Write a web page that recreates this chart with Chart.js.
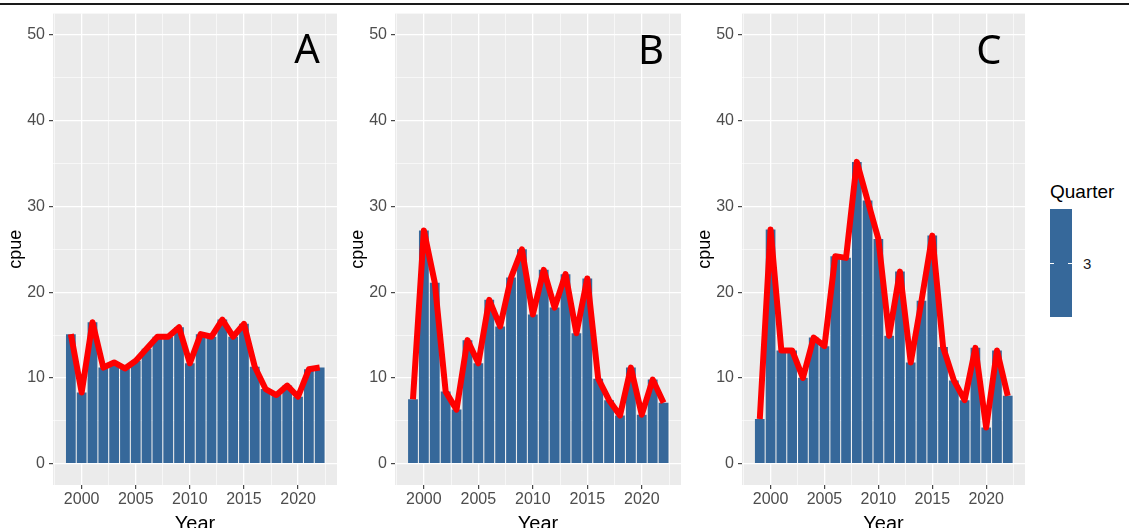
<!DOCTYPE html>
<html>
<head>
<meta charset="utf-8">
<script src="https://cdn.jsdelivr.net/npm/chart.js@4.4.1/dist/chart.umd.min.js"></script>
<style>
  html, body { margin: 0; padding: 0; background: #fff; }
  #page { position: relative; width: 1129px; height: 528px; overflow: hidden; font-family: "Liberation Sans", Arial, sans-serif; }
  canvas { position: absolute; top: 0; }
  .rule { position: absolute; left: 0; top: 3px; width: 1129px; height: 2px; background: #1a1a1a; }
  .letter { position: absolute; z-index: 2; font-family: "Noto Sans", sans-serif; font-size: 40px; line-height: 1; color: #000; transform: translate(-50%, -50%); }
  .legend-title { position: absolute; left: 1050px; top: 180px; font-size: 19px; line-height: 24px; color: #000; }
  .legend-bar { position: absolute; left: 1050px; top: 209px; width: 22px; height: 108px; background: #36689A; }
  .legend-tick { position: absolute; top: 263px; width: 4px; height: 1px; background: #fff; }
  .legend-label { position: absolute; left: 1083px; top: 254px; font-size: 15px; line-height: 19px; color: #1a1a1a; }
</style>
</head>
<body>
<div id="page">
  <div class="rule"></div>
  <canvas id="panelA"></canvas>
  <canvas id="panelB"></canvas>
  <canvas id="panelC"></canvas>
  <div class="letter" style="left:307px; top:48px;">A</div>
  <div class="letter" style="left:651px; top:49px;">B</div>
  <div class="letter" style="left:989px; top:49px;">C</div>
  <div class="legend-title">Quarter</div>
  <div class="legend-bar"></div>
  <div class="legend-tick" style="left:1050px;"></div>
  <div class="legend-tick" style="left:1068px;"></div>
  <div class="legend-label">3</div>
</div>
<script>
// --- data ---
const years = [1999, 2000, 2001, 2002, 2003, 2004, 2005, 2006, 2007, 2008, 2009, 2010,
               2011, 2012, 2013, 2014, 2015, 2016, 2017, 2018, 2019, 2020, 2021, 2022];
const cpueA = [15.1, 8.3, 16.5, 11.2, 11.8, 11.1, 12.0, 13.4, 14.8, 14.8, 15.9, 11.7,
               15.1, 14.8, 16.8, 14.8, 16.3, 11.3, 8.7, 8.0, 9.1, 7.8, 11.0, 11.2];
const cpueB = [7.5, 27.2, 21.1, 8.4, 6.3, 14.4, 11.7, 19.1, 16.0, 21.7, 25.0, 17.4,
               22.6, 18.2, 22.1, 15.2, 21.6, 9.9, 7.4, 5.6, 11.2, 5.7, 9.8, 7.1];
const cpueC = [5.2, 27.3, 13.2, 13.2, 10.0, 14.7, 13.7, 24.2, 24.0, 35.2, 30.7, 26.2,
               14.9, 22.4, 11.8, 19.0, 26.6, 13.6, 9.7, 7.4, 13.5, 4.2, 13.2, 7.9];

const xMajorTicks = [2000, 2005, 2010, 2015, 2020];
const xMinorTicks = [1997.5, 2002.5, 2007.5, 2012.5, 2017.5, 2022.5];
const yMajorTicks = [0, 10, 20, 30, 40, 50];
const yMinorTicks = [5, 15, 25, 35, 45];

const BAR_COLOUR = '#36689A';
const PANEL_BG = '#EBEBEB';

Chart.defaults.font.family = '"Liberation Sans", Arial, sans-serif';
Chart.defaults.animation = false;

// grey panel behind the grid
const panelBackground = {
    id: 'panelBackground',
    beforeDraw(chart) {
        const { ctx, chartArea: a } = chart;
        ctx.save();
        ctx.fillStyle = PANEL_BG;
        ctx.fillRect(a.left, a.top, a.right - a.left, a.bottom - a.top);
        ctx.restore();
    }
};

function gridStyle(majors) {
    return {
        color: '#FFFFFF',
        lineWidth: c => (c.tick && majors.includes(c.tick.value)) ? 1.3 : 0.6,
        tickColor: c => (c.tick && majors.includes(c.tick.value)) ? '#333333' : 'rgba(0,0,0,0)',
        tickWidth: 1.1,
        tickLength: 4,
        drawTicks: true,
        offset: false
    };
}

function drawPanel(id, values, left, width) {
    const canvas = document.getElementById(id);
    canvas.width = width;
    canvas.height = 528;
    canvas.style.left = left + 'px';
    canvas.style.width = width + 'px';
    canvas.style.height = '528px';

    const points = years.map((yr, i) => ({ x: yr, y: values[i] }));

    new Chart(canvas, {
        type: 'bar',
        data: {
            datasets: [
                {
                    type: 'line',
                    data: points,
                    borderColor: '#FF0000',
                    borderWidth: 6,
                    pointRadius: 0,
                    tension: 0,
                    borderJoinStyle: 'round',
                    order: 0
                },
                {
                    type: 'bar',
                    data: points,
                    backgroundColor: BAR_COLOUR,
                    barPercentage: 0.9,
                    categoryPercentage: 1,
                    order: 1
                }
            ]
        },
        options: {
            responsive: false,
            layout: { padding: { top: 12, right: 3, left: 0, bottom: 0 } },
            plugins: { legend: { display: false }, tooltip: { enabled: false } },
            scales: {
                x: {
                    type: 'linear',
                    min: 1997.35,
                    max: 2023.6,
                    offset: false,
                    border: { display: false },
                    grid: gridStyle(xMajorTicks),
                    afterBuildTicks: s => {
                        s.ticks = xMajorTicks.concat(xMinorTicks).sort((a, b) => a - b).map(v => ({ value: v }));
                    },
                    afterFit: s => { s.height = 43; },
                    ticks: {
                        autoSkip: false,
                        maxRotation: 0,
                        padding: 1,
                        color: '#4D4D4D',
                        font: { size: 16 },
                        callback: v => xMajorTicks.includes(v) ? String(v) : ''
                    },
                    title: {
                        display: true,
                        text: 'Year',
                        color: '#000',
                        font: { size: 20, lineHeight: 0.4 },
                        padding: { top: 0, bottom: 0 }
                    }
                },
                y: {
                    type: 'linear',
                    min: -2.5,
                    max: 52.5,
                    border: { display: false },
                    grid: gridStyle(yMajorTicks),
                    afterBuildTicks: s => {
                        s.ticks = yMajorTicks.concat(yMinorTicks).sort((a, b) => a - b).map(v => ({ value: v }));
                    },
                    afterFit: s => { s.width = 53; },
                    ticks: {
                        autoSkip: false,
                        padding: 4,
                        color: '#4D4D4D',
                        font: { size: 16 },
                        callback: v => yMajorTicks.includes(v) ? String(v) : ''
                    },
                    title: {
                        display: true,
                        text: 'cpue',
                        color: '#000',
                        font: { size: 18 },
                        padding: { top: 5, bottom: 0 }
                    }
                }
            }
        },
        plugins: [panelBackground]
    });
}

drawPanel('panelA', cpueA, 0, 340);
drawPanel('panelB', cpueB, 342, 342);
drawPanel('panelC', cpueC, 689, 339);
</script>
</body>
</html>
